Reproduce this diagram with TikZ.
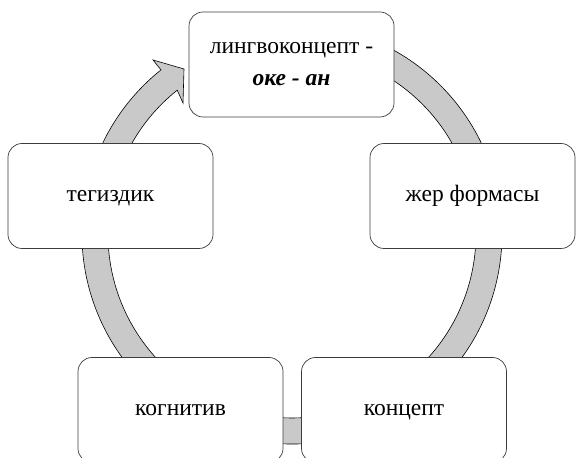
\documentclass[tikz,border=0pt]{standalone}
\usepackage{fontspec}
\setmainfont{Liberation Serif}
\definecolor{ringgray}{RGB}{201,201,201}
\definecolor{boxline}{RGB}{60,60,60}
\tikzset{
  cyclebox/.style={draw=boxline, line width=0.7pt, fill=white, rounded corners=14,
    minimum width=205, minimum height=105, inner sep=0pt, align=center,
    font=\fontsize{23.5}{27}\selectfont},
  onelinebox/.style={cyclebox, text height=11pt, text depth=0pt},
  ringband/.style={fill=ringgray, draw=black, line width=0.6pt}
}
\begin{document}
\begin{tikzpicture}[x=1pt,y=1pt]
\useasboundingbox (0,0) rectangle (577,457);
\begin{scope}[shift={(292,223)}]
  \filldraw[ringband] (80:210) arc[start angle=80, end angle=-231.4, radius=210]
    -- (-139,174) -- (-108,165) -- (-109,131) -- (-114.8,143.8)
    arc[start angle=128.6, end angle=440, radius=184] -- cycle;
\end{scope}
\node[cyclebox] (top) at (291.5,392.5) {лингвоконцепт -\\[5pt]\textbf{\textit{оке - ан}}};
\node[onelinebox] (right) at (472.5,261) {жер формасы};
\node[onelinebox] (br) at (404,47) {концепт};
\node[onelinebox] (bl) at (180.5,47) {когнитив};
\node[onelinebox] (left) at (110.5,261) {тегиздик};
\end{tikzpicture}
\end{document}
